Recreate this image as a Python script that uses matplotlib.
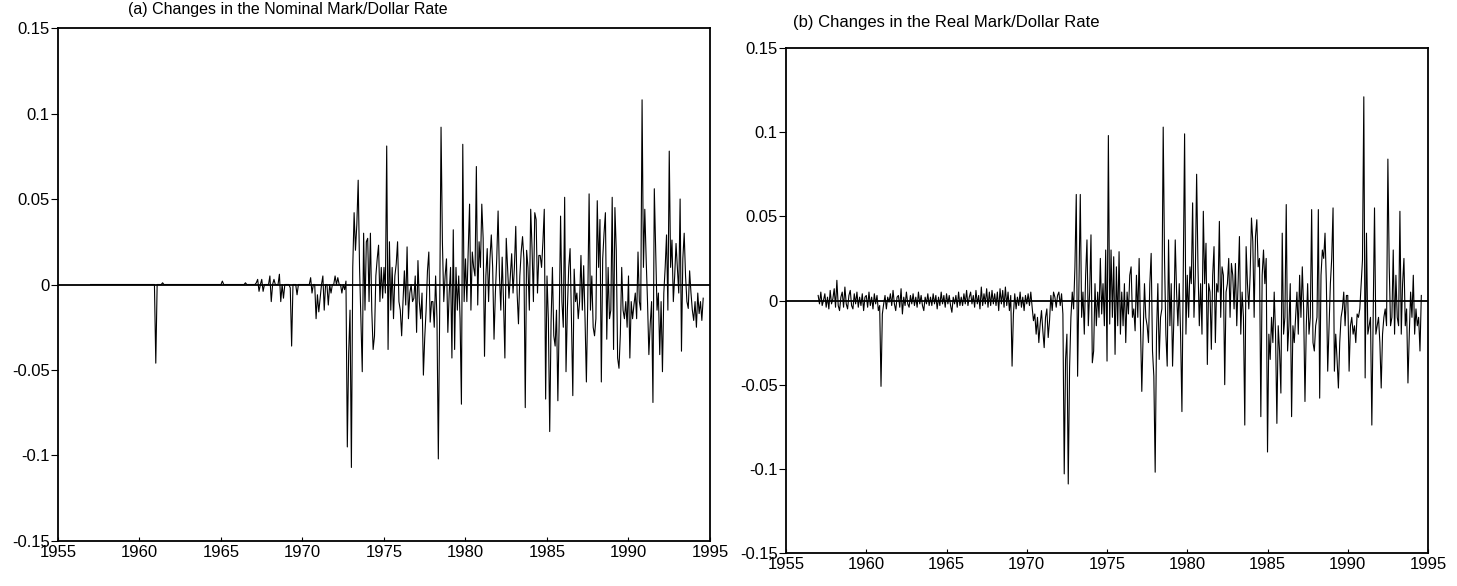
import matplotlib
matplotlib.use('Agg')
import matplotlib.pyplot as plt
import numpy as np

plt.rcParams['font.family'] = ['Liberation Sans', 'DejaVu Sans']

# monthly changes, in thousandths, one row per year (Jan..Dec)
# (a) nominal mark/dollar rate, from Jan 1957
nominal_start = 1957
nominal_milli = [
    [0, 0, 0, 0, 0, 0, 0, 0, 0, 0, 0, 0],            # 1957
    [0, 0, 0, 0, 0, 0, 0, 0, 0, 0, 0, 0],            # 1958
    [0, 0, 0, 0, 0, 0, 0, 0, 0, 0, 0, 0],            # 1959
    [0, 0, 0, 0, 0, 0, 0, 0, 0, 0, 0, 0],            # 1960
    [-46, 0, 0, 0, 0, 1, 0, 0, 0, 0, 0, 0],          # 1961
    [0, 0, 0, 0, 0, 0, 0, 0, 0, 0, 0, 0],            # 1962
    [0, 0, 0, 0, 0, 0, 0, 0, 0, 0, 0, 0],            # 1963
    [0, 0, 0, 0, 0, 0, 0, 0, 0, 0, 0, 0],            # 1964
    [0, 2, 0, 0, 0, 0, 0, 0, 0, 0, 0, 0],            # 1965
    [0, 0, 0, 0, 0, 0, 1, 0, 0, 0, 0, 0],            # 1966
    [0, 0, 1, 3, -4, 0, 3, -4, 0, 0, 0, 0],          # 1967
    [5, -10, 0, 3, 0, 0, 0, 6, -10, 0, -8, 0],       # 1968
    [0, 0, 0, -2, -36, 0, 0, 0, -6, 0, 0, 0],        # 1969
    [0, 0, 0, 0, 0, 0, 4, -5, 0, 0, -20, -6],        # 1970
    [-16, -8, 0, 5, -15, 0, 0, -12, 0, -5, 0, 0],    # 1971
    [5, 0, 4, 0, 0, -5, 0, -3, 2, -95, -40, -15],    # 1972
    [-107, 10, 42, 20, 35, 61, 10, -20, -51, 30, -15, 25],   # 1973
    [27, -10, 30, -15, -38, -30, 5, 15, 23, -10, 10, -8],    # 1974
    [10, -5, 81, -38, 25, -15, 10, -20, 5, 12, 25, -10],     # 1975
    [-15, -30, -10, 8, -12, 22, -20, -5, 0, -10, -8, 5],     # 1976
    [-28, 14, -10, -20, -5, -53, -31, -15, 8, 19, -22, -10], # 1977
    [-10, -25, 5, -20, -102, -15, 92, 25, -10, 5, 15, -28],  # 1978
    [-5, 10, -43, 32, -38, 10, -15, 5, -20, -70, 82, -10],   # 1979
    [15, -10, 20, 47, -15, 19, 10, 5, 69, -12, 25, 10],      # 1980
    [47, 27, -42, 5, 21, -10, 15, 29, 10, -32, -5, 15],      # 1981
    [43, 5, -15, 16, -10, -43, 27, 10, -8, 5, 18, -5],       # 1982
    [10, 34, -5, -23, 5, 19, 28, 15, -72, 20, 10, -15],      # 1983
    [44, 21, -10, 42, 38, -5, 17, 17, 10, 25, 44, -67],      # 1984
    [5, -20, -86, -22, 10, -30, -36, -15, -68, -20, 40, -10],# 1985
    [-25, 51, -51, -15, 10, 21, -20, -65, 9, -10, -5, -20],  # 1986
    [-10, 17, -15, 11, -20, -57, -10, 53, -15, 5, -25, -30], # 1987
    [-20, 49, 10, 38, -57, 15, 30, 42, -32, 10, -20, -15],   # 1988
    [51, -38, 45, 20, -43, -49, -29, 10, -15, -20, -10, -25],# 1989
    [5, -43, -10, -20, -12, -5, -20, 19, -10, -15, 108, 10], # 1990
    [44, 15, -10, -41, -23, -10, -69, 56, 20, -15, -5, -41], # 1991
    [-10, -51, -5, 10, 29, -15, 78, 10, 26, -10, 5, 24],     # 1992
    [10, -5, 50, -39, 15, 30, 5, -10, -14, 8, -5, -15],      # 1993
    [-21, -10, -25, -5, -17, -10, -21, -8],                  # 1994
]

# (b) real mark/dollar rate, from Jan 1957
real_start = 1957
real_milli = [
    [3, -2, 5, -3, 0, 4, -4, 2, -5, 6, -2, 1],              # 1957
    [7, -4, 12, -3, -6, 2, 5, -4, 8, -2, -5, 3],            # 1958
    [6, -3, -5, 4, -2, 5, -4, 2, -3, 4, -6, 2],             # 1959
    [3, -4, 5, -3, 2, -5, 4, -2, 3, -6, -3, -51],           # 1960
    [-8, -2, 3, -5, 2, -1, 4, -3, 6, -2, -6, 2],            # 1961
    [3, -4, 7, -8, 2, -3, 5, -2, -4, 3, -2, 4],             # 1962
    [-3, 2, -4, 5, -2, 3, -3, -6, 2, -2, 4, -3],            # 1963
    [2, -3, 4, -2, 3, -5, 2, -3, 5, -2, 3, -4],             # 1964
    [4, -2, 3, -3, -7, 2, -2, 3, -4, 5, -3, 2],             # 1965
    [-3, 4, -2, 6, -3, 2, 5, -2, 3, -4, 6, -2],             # 1966
    [3, -5, 8, -3, 4, -2, 7, -4, 5, -3, 6, -2],             # 1967
    [4, -3, 5, -6, 7, -2, 6, -4, 8, -3, 5, -6],             # 1968
    [3, -39, -8, 4, -5, 2, -3, 5, -4, 2, -6, 3],            # 1969
    [-2, 4, -3, 5, -4, -12, -8, -20, -10, -25, -14, -6],    # 1970
    [-18, -28, -10, -5, -22, -12, 3, -6, 5, 2, -4, 3],      # 1971
    [5, -3, 4, -8, -103, -35, -20, -109, -40, -10, 5, -5],  # 1972
    [20, 63, -45, 10, 63, -10, 5, -20, 15, 36, -15, 5],     # 1973
    [39, -37, -30, 10, -15, 5, -10, 25, -8, 10, -15, 30],   # 1974
    [-36, 98, -14, 30, -10, 26, -32, 20, -15, 29, -20, 5],  # 1975
    [-15, 10, -25, 5, -8, 15, 20, -10, -5, -18, 15, -10],   # 1976
    [25, -15, -54, -20, 10, -10, -15, -25, 10, 28, -30, -45],   # 1977
    [-102, -20, 10, -35, -10, -5, 103, 24, -20, -39, 36, -15],  # 1978
    [10, -39, -10, 36, 5, -15, 10, -20, -66, 15, 99, -20],      # 1979
    [15, -10, 20, 10, 58, -10, 15, 75, 20, -15, 10, -20],       # 1980
    [53, 10, 34, -38, 10, 5, -29, 15, 32, -25, 10, 5],          # 1981
    [47, -10, 20, 15, -50, 5, 10, 25, -10, 22, 15, -5],         # 1982
    [22, -15, 10, 38, -20, 5, -10, -74, 32, 10, -5, 15],        # 1983
    [49, 35, -10, 38, 48, 20, 25, -69, 15, 30, 10, 25],         # 1984
    [-90, -20, -35, -10, -25, 5, -20, -73, -15, -30, -55, 40],  # 1985
    [-20, -10, 57, -30, -15, 10, -69, -15, -25, -10, 5, -20],   # 1986
    [15, -10, 20, -5, -60, -15, 10, -20, -10, 54, -25, -30],    # 1987
    [-15, -10, 54, -58, 15, 30, 25, 40, 10, -42, -15, 10],      # 1988
    [25, 55, -42, -20, -35, -52, -25, -10, -5, 5, -15, 3],      # 1989
    [3, -42, -15, -10, -20, -15, -25, -8, -10, -5, 10, 24],     # 1990
    [121, -46, 40, -20, -15, -10, -74, -10, 55, -20, -15, -10], # 1991
    [-25, -52, -20, -10, -5, -15, 84, 20, -15, -10, 30, -20],   # 1992
    [15, -10, -15, 53, -20, 10, 25, -15, -5, -49, -20, 5],      # 1993
    [-10, 15, -20, -5, -15, -10, -30, 3],                       # 1994
]

year_ticks = [1955, 1960, 1965, 1970, 1975, 1980, 1985, 1990, 1995]
y_ticks = [0.15, 0.1, 0.05, 0, -0.05, -0.1, -0.15]
y_tick_labels = ['0.15', '0.1', '0.05', '0', '-0.05', '-0.1', '-0.15']


def to_series(rows, start):
    vals = np.array([v for row in rows for v in row], dtype=float) / 1000.0
    t = start + np.arange(len(vals)) / 12.0
    return t, vals


def draw_panel(ax, t, vals):
    ax.plot(t, vals, color='black', linewidth=0.8)
    ax.axhline(0, color='black', linewidth=1.3)
    ax.set_xlim(1955, 1995)
    ax.set_ylim(-0.15, 0.15)
    ax.set_xticks(year_ticks)
    ax.set_yticks(y_ticks)
    ax.set_yticklabels(y_tick_labels)
    ax.tick_params(axis='x', direction='in', length=3, labelsize=12, pad=3)
    ax.tick_params(axis='y', direction='out', length=5, labelsize=12, pad=1)
    for s in ax.spines.values():
        s.set_linewidth(1.3)


fig = plt.figure(figsize=(14.57, 5.86), dpi=100)

ax1 = fig.add_axes([0.0398, 0.0768, 0.4475, 0.8754])
t1, v1 = to_series(nominal_milli, nominal_start)
draw_panel(ax1, t1, v1)
fig.text(0.088, 0.983, '(a) Changes in the Nominal Mark/Dollar Rate',
         fontsize=11.5, va='center', ha='left')

ax2 = fig.add_axes([0.5395, 0.0563, 0.4406, 0.8618])
t2, v2 = to_series(real_milli, real_start)
draw_panel(ax2, t2, v2)
fig.text(0.5445, 0.962, '(b) Changes in the Real Mark/Dollar Rate',
         fontsize=12, va='center', ha='left')

fig.savefig('out.png', dpi=100)
plt.close(fig)
